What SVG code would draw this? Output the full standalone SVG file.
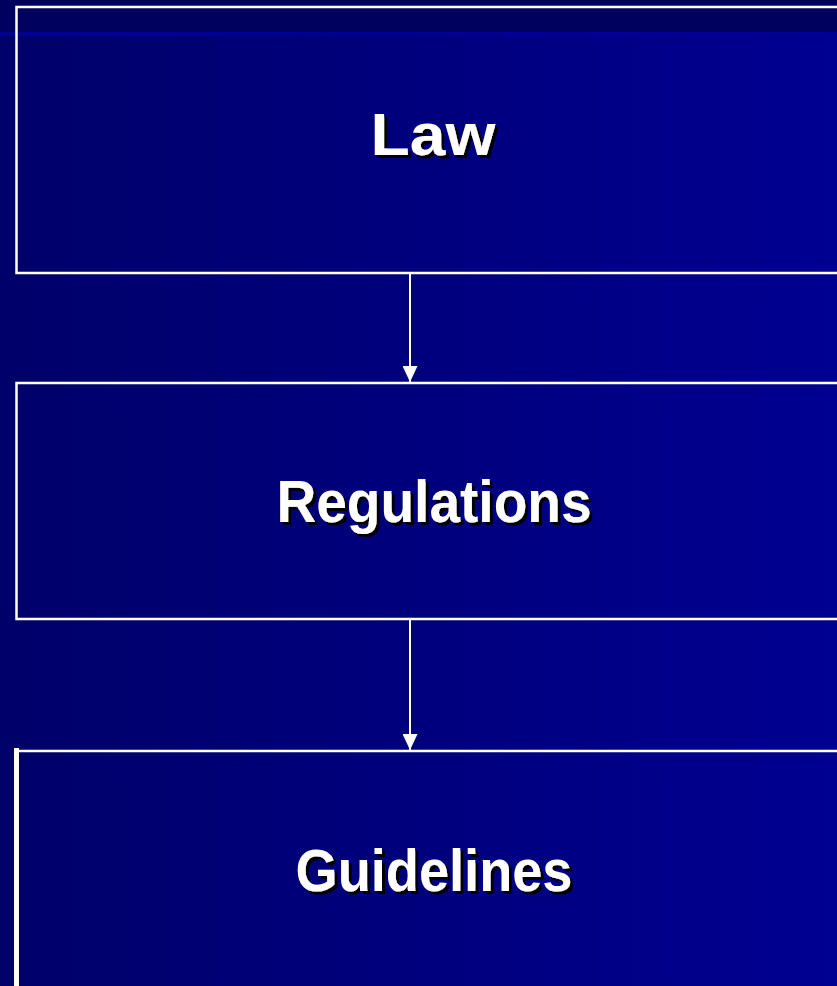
<svg xmlns="http://www.w3.org/2000/svg" width="837" height="986" viewBox="0 0 837 986">
  <defs>
    <linearGradient id="bg" x1="0" y1="0" x2="1" y2="0">
      <stop offset="0" stop-color="#00006a"/>
      <stop offset="1" stop-color="#000091"/>
    </linearGradient>
    <marker id="arrow" viewBox="0 0 16 15" refX="16" refY="7.5" markerWidth="16" markerHeight="15" markerUnits="userSpaceOnUse" orient="auto">
      <path d="M0,0 L16,7.5 L0,15 Z" fill="#ffffff"/>
    </marker>
    <filter id="shadow" x="-10%" y="-20%" width="130%" height="150%">
      <feDropShadow dx="3" dy="3" stdDeviation="0.3" flood-color="#000000" flood-opacity="1"/>
    </filter>
  </defs>
  <style>
    .box { fill: none; stroke: #ffffff; stroke-width: 2.5; }
    .conn { stroke: #ffffff; stroke-width: 2; fill: none; }
    .label { font-family: "Liberation Sans", "DejaVu Sans", sans-serif; font-weight: bold; font-size: 59px; text-anchor: middle; fill: #ffffff; filter: url(#shadow); }
  </style>

  <!-- background -->
  <rect x="0" y="0" width="837" height="986" fill="url(#bg)"/>
  <rect x="0" y="0" width="837" height="32" fill="#00005e"/>
  <rect x="0" y="32" width="837" height="4" fill="#000094"/>

  <!-- connectors -->
  <g id="connectors">
    <path class="conn" d="M410,274 L410,382" marker-end="url(#arrow)"/>
    <path class="conn" d="M410,620 L410,750" marker-end="url(#arrow)"/>
  </g>

  <g id="law">
    <path class="box" d="M840,7 L16.5,7 L16.5,273 L840,273"/>
    <text class="label" x="433" y="155" textLength="125" lengthAdjust="spacingAndGlyphs">Law</text>
  </g>

  <g id="regulations">
    <path class="box" d="M840,383 L16.5,383 L16.5,619 L840,619"/>
    <text class="label" x="434" y="522" textLength="315" lengthAdjust="spacingAndGlyphs">Regulations</text>
  </g>

  <g id="guidelines">
    <path class="box" d="M840,751 L16.5,751"/>
    <rect x="14" y="748" width="5" height="240" fill="#ffffff"/>
    <text class="label" x="434" y="891" textLength="277" lengthAdjust="spacingAndGlyphs">Guidelines</text>
  </g>
</svg>
